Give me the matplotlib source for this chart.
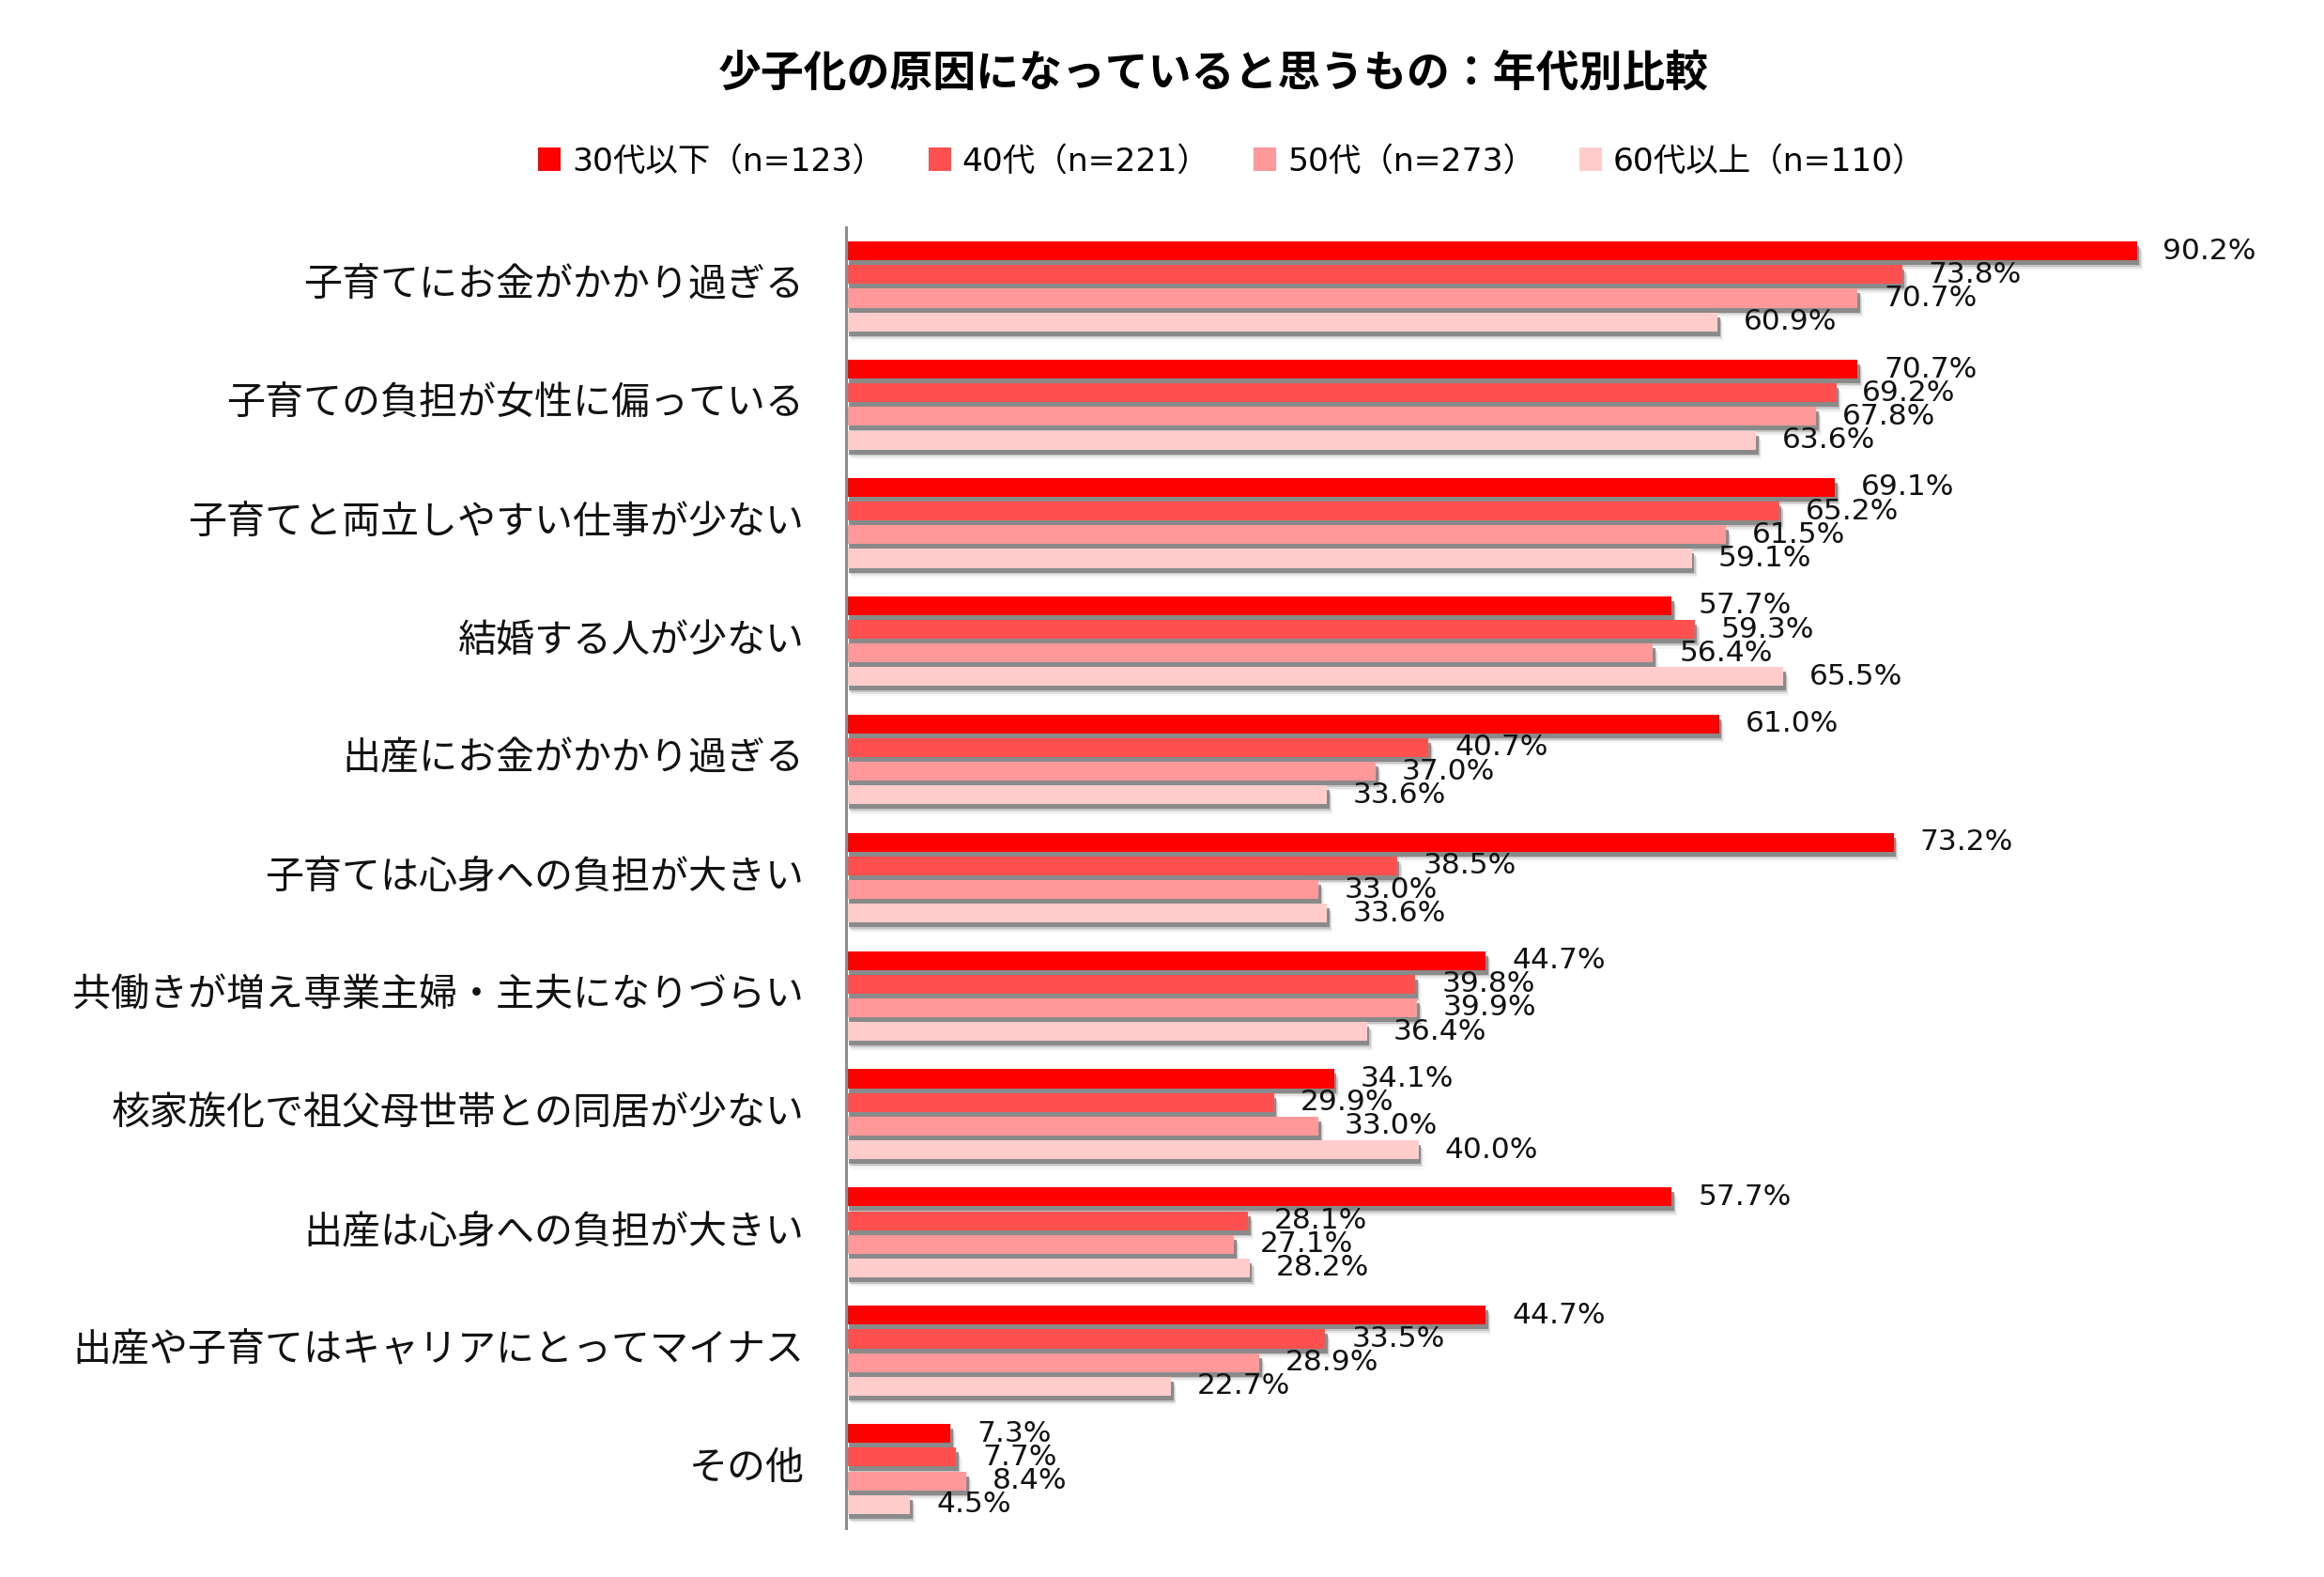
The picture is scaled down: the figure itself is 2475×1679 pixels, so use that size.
import matplotlib

matplotlib.use("Agg")
import matplotlib.patheffects as pe
import matplotlib.pyplot as plt
import numpy as np
from matplotlib.patches import Patch

# ========= データ =========
categories = [
    "子育てにお金がかかり過ぎる",
    "子育ての負担が女性に偏っている",
    "子育てと両立しやすい仕事が少ない",
    "結婚する人が少ない",
    "出産にお金がかかり過ぎる",
    "子育ては心身への負担が大きい",
    "共働きが増え専業主婦・主夫になりづらい",
    "核家族化で祖父母世帯との同居が少ない",
    "出産は心身への負担が大きい",
    "出産や子育てはキャリアにとってマイナス",
    "その他",
]
age_30 = [90.2, 70.7, 69.1, 57.7, 61.0, 73.2, 44.7, 34.1, 57.7, 44.7, 7.3]
age_40 = [73.8, 69.2, 65.2, 59.3, 40.7, 38.5, 39.8, 29.9, 28.1, 33.5, 7.7]
age_50 = [70.7, 67.8, 61.5, 56.4, 37.0, 33.0, 39.9, 33.0, 27.1, 28.9, 8.4]
age_60 = [60.9, 63.6, 59.1, 65.5, 33.6, 33.6, 36.4, 40.0, 28.2, 22.7, 4.5]
series_labels = ["30代以下（n=123）", "40代（n=221）", "50代（n=273）", "60代以上（n=110）"]
colors = ["#FF0000", "#FF5050", "#FF9999", "#FFCCCC"]

plt.rcParams["font.family"] = ["DejaVu Sans", "Noto Sans CJK JP"]

fig = plt.figure(figsize=(24.75, 16.79), dpi=100)
ax = fig.add_axes([0.364, 0.031, 0.6158, 0.8249])

# 影（ぼかし風に重ねる）
shadow = [
    pe.SimplePatchShadow(offset=(4.5, -7.5), shadow_rgbFace="gray", alpha=0.07),
    pe.SimplePatchShadow(offset=(3.5, -6), shadow_rgbFace="gray", alpha=0.15),
    pe.SimplePatchShadow(offset=(2.8, -4.8), shadow_rgbFace="gray", alpha=0.3),
    pe.SimplePatchShadow(offset=(2, -3.6), shadow_rgbFace="#808080", alpha=0.85),
    pe.Normal(),
]

y = np.arange(len(categories))
pitch, height = 0.2, 0.16
for i, (vals, c) in enumerate(zip([age_30, age_40, age_50, age_60], colors)):
    pos = y + (i - 1.5) * pitch
    bars = ax.barh(pos, vals, height=height, color=c, zorder=2 + i * 0.01)
    for b in bars:
        b.set_path_effects(shadow)
    for p, v in zip(pos, vals):
        ax.annotate(
            f"{v:.1f}%",
            (v, p),
            xytext=(20, 0),
            textcoords="offset points",
            ha="left",
            va="center",
            fontsize=22.5,
            color="#111111",
            zorder=5,
        )

ax.set_xlim(0, 100)
ax.set_ylim(len(categories) - 0.5, -0.5)
ax.set_yticks(y)
ax.set_yticklabels(categories, fontsize=29.5, color="#111111", va="center")
ax.tick_params(axis="y", length=0, pad=32)
ax.set_xticks([])
for s in ["top", "right", "bottom"]:
    ax.spines[s].set_visible(False)
ax.spines["left"].set_color("#8c8c8c")
ax.spines["left"].set_linewidth(2.2)
ax.spines["left"].set_zorder(6)

fig.text(
    0.522,
    0.953,
    "少子化の原因になっていると思うもの：年代別比較",
    ha="center",
    va="center",
    fontsize=33,
    fontweight="bold",
)

handles = [Patch(facecolor=c, edgecolor="none") for c in colors]
fig.legend(
    handles,
    series_labels,
    loc="center",
    bbox_to_anchor=(0.530, 0.8975),
    ncol=4,
    frameon=False,
    fontsize=24.8,
    handlelength=0.7,
    handleheight=0.7,
    handletextpad=0.35,
    columnspacing=1.35,
)

fig.savefig("out.png", dpi=100, facecolor="white")
